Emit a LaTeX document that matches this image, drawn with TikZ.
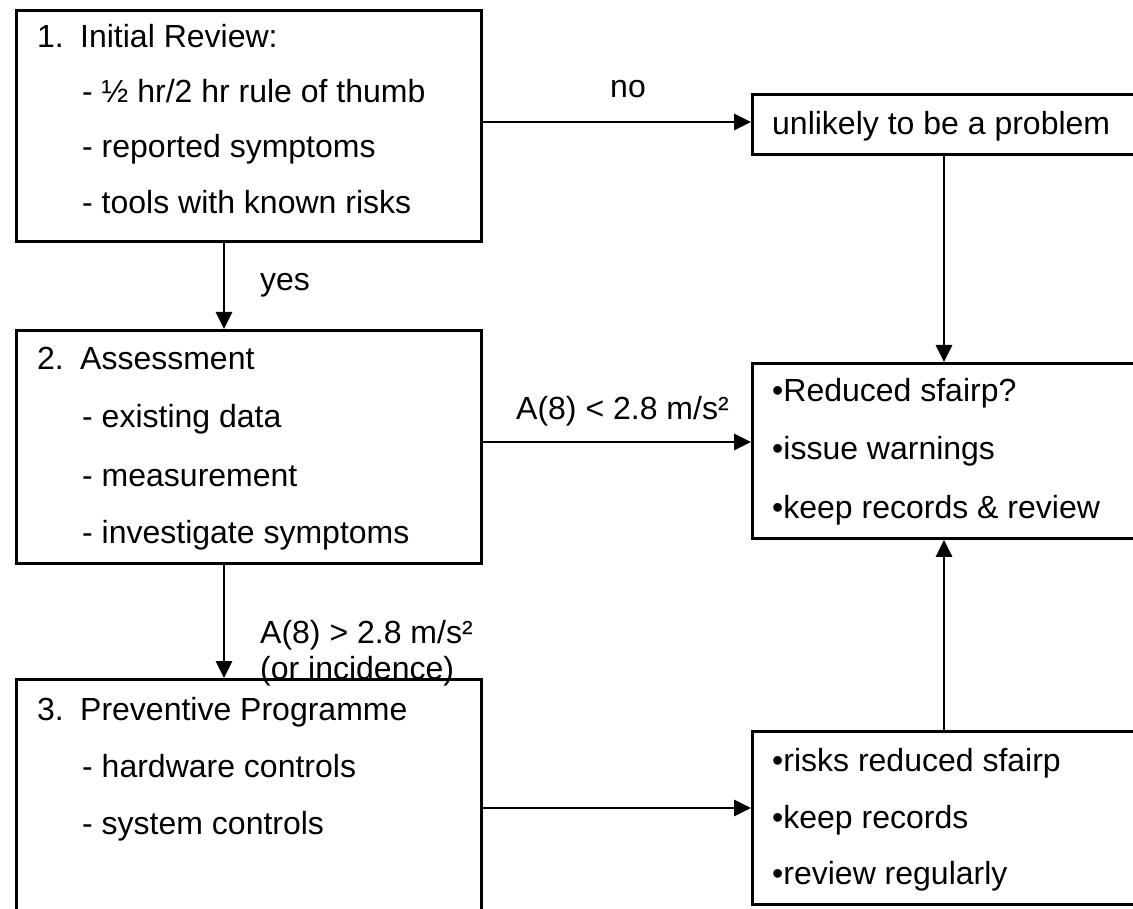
\documentclass[tikz,border=0pt]{standalone}
\usepackage{fontspec}
\setmainfont{Liberation Sans}
\usetikzlibrary{arrows.meta}
\begin{document}
\begin{tikzpicture}[x=1pt,y=-1pt,
  box/.style={draw,line width=2.8pt,rectangle,inner sep=0pt,anchor=north west},
  txt/.style={anchor=base west,inner sep=0pt,font=\fontsize{32}{38}\selectfont},
  arr/.style={line width=2.8pt,-{Triangle[length=17pt,width=16pt]}}]
\useasboundingbox (0,0) rectangle (1133,909);
\clip (0,0) rectangle (1133,909);
\fill[white] (0,0) rectangle (1133,909);
% text labels on connectors
\node[txt,anchor=base] (lno) at (628,98) {no};
\node[txt] (lyes) at (260,291) {yes};
\node[txt] (llt) at (516,419) {A(8) < 2.8 m/s²};
\node[txt] (lgt) at (260,643) {A(8) > 2.8 m/s²};
\node[txt] (linc) at (260,679) {(or incidence)};
% boxes
\node[box,minimum width=465pt,minimum height=231pt] (b1) at (15,9) {};
\node[box,minimum width=465pt,minimum height=233pt] (b2) at (15,329) {};
\node[box,minimum width=465pt,minimum height=260pt] (b3) at (15,678) {};
\node[box,minimum width=420pt,minimum height=60pt] (u) at (751,93) {};
\node[box,minimum width=420pt,minimum height=175pt] (m) at (751,362) {};
\node[box,minimum width=420pt,minimum height=173pt] (r) at (751,730) {};
% box 1 text
\node[txt] (t1a) at (37,48) {1.};
\node[txt] (t1b) at (80,48) {Initial Review:};
\node[txt] (t1c) at (82,103) {- ½ hr/2 hr rule of thumb};
\node[txt] (t1d) at (82,158) {- reported symptoms};
\node[txt] (t1e) at (82,214) {- tools with known risks};
% box 2 text
\node[txt] (t2a) at (37,370) {2.};
\node[txt] (t2b) at (80,370) {Assessment};
\node[txt] (t2c) at (82,428) {- existing data};
\node[txt] (t2d) at (82,486) {- measurement};
\node[txt] (t2e) at (82,543) {- investigate symptoms};
% box 3 text
\node[txt] (t3a) at (37,720) {3.};
\node[txt] (t3b) at (80,720) {Preventive Programme};
\node[txt] (t3c) at (82,777) {- hardware controls};
\node[txt] (t3d) at (82,834) {- system controls};
% right boxes text
\node[txt] (tu) at (772,135) {unlikely to be a problem};
\node[txt] (tma) at (772,402) {•Reduced sfairp?};
\node[txt] (tmb) at (772,459) {•issue warnings};
\node[txt] (tmc) at (772,518) {•keep records \& review};
\node[txt] (tra) at (772,771) {•risks reduced sfairp};
\node[txt] (trb) at (772,828) {•keep records};
\node[txt] (trc) at (772,884) {•review regularly};
% connector guides
\coordinate (xl) at (224,0);
\coordinate (xr) at (944,0);
\coordinate (y1) at (0,122);
\coordinate (y2) at (0,442);
\coordinate (y3) at (0,808);
% connectors
\draw[arr] (b1.south -| xl) -- (b2.north -| xl);
\draw[arr] (b2.south -| xl) -- (b3.north -| xl);
\draw[arr] (u.south -| xr) -- (m.north -| xr);
\draw[arr] (r.north -| xr) -- (m.south -| xr);
\draw[arr] (b1.east |- y1) -- (u.west |- y1);
\draw[arr] (b2.east |- y2) -- (m.west |- y2);
\draw[arr] (b3.east |- y3) -- (r.west |- y3);
\end{tikzpicture}
\end{document}
